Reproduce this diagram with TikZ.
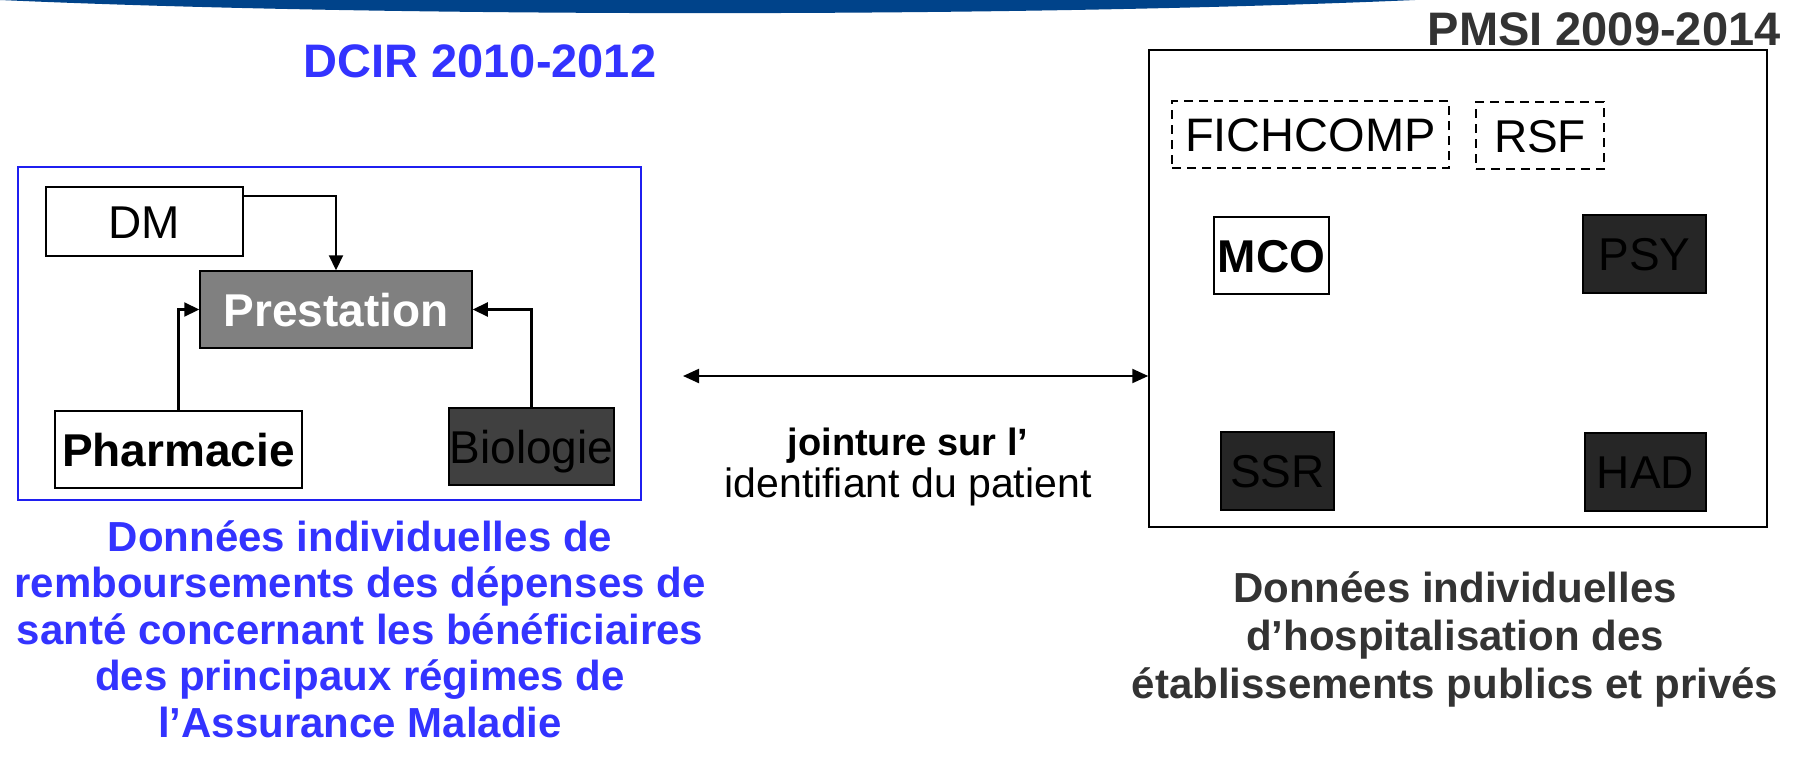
\documentclass[tikz,border=0pt]{standalone}
\usepackage{fontspec}
\setmainfont{Liberation Sans}
\usetikzlibrary{arrows.meta}
\definecolor{bandeau}{HTML}{00438A}
\definecolor{dcirbleu}{HTML}{3333FF}
\definecolor{cadrebleu}{HTML}{1F1FF0}
\definecolor{pmsigris}{HTML}{333333}
\definecolor{prestgris}{HTML}{808080}
\definecolor{biogris}{HTML}{404040}
\definecolor{noirgris}{HTML}{262626}
\tikzset{
  cadre/.style={draw, line width=1.5pt, inner sep=0pt},
  boite/.style={draw, line width=1.5pt, inner sep=0pt, text height=33pt, text depth=0pt,
    font=\fontsize{46}{52}\selectfont},
  pointille/.style={boite, dash pattern=on 9pt off 6pt},
  fleche/.style={line width=2.2pt, -{Triangle[length=15pt,width=14pt]}},
  double fleche/.style={line width=2.2pt, {Triangle[length=16pt,width=14pt]}-{Triangle[length=16pt,width=14pt]}},
  legende/.style={align=center, inner sep=0pt, font=\fontsize{42}{46.5}\selectfont\bfseries}
}
\begin{document}
\begin{tikzpicture}[x=1pt,y=-1pt]
\path[fill=white] (0,0) rectangle (1801,758);
\fill[bandeau] (0,0) .. controls (380,17) and (1000,18) .. (1415,0) -- cycle;

\node[anchor=base, text=dcirbleu, font=\fontsize{47}{56}\selectfont\bfseries] (titredcir) at (480,77) {DCIR 2010-2012};

\node[cadre, draw=cadrebleu, minimum width=623pt, minimum height=333pt] (dcir) at (329.5,333.5) {};
\node[boite, minimum width=197pt, minimum height=69pt] (dm) at (144.5,221.5) {DM};
\node[boite, fill=prestgris, text=white, font=\fontsize{46}{52}\selectfont\bfseries,
  minimum width=272pt, minimum height=77pt] (prest) at (336,309.5) {Prestation};
\node[boite, font=\fontsize{46}{52}\selectfont\bfseries, minimum width=247pt, minimum height=77pt] (pharma) at (178.5,449.5) {Pharmacie};
\node[boite, fill=biogris, minimum width=165pt, minimum height=77pt] (bio) at (531.5,446.5) {Biologie};
\draw[fleche] ([yshift=-10pt]dm.north east) -| (prest.north);
\draw[fleche] (pharma.north) |- (prest.west);
\draw[fleche] (bio.north) |- (prest.east);

\node[cadre, minimum width=618pt, minimum height=477pt] (pmsi) at (1458,288.5) {};
\node[anchor=base east, text=pmsigris, font=\fontsize{47}{56}\selectfont\bfseries] (titrepmsi) at (1784,45) {PMSI 2009-2014};
\node[pointille, font=\fontsize{47}{52}\selectfont, minimum width=277pt, minimum height=67pt] (fichcomp) at (1310.5,134.5) {FICHCOMP};
\node[pointille, minimum width=128pt, minimum height=67pt] (rsf) at (1540,135.5) {RSF};
\node[boite, font=\fontsize{46}{52}\selectfont\bfseries, minimum width=115pt, minimum height=77pt] (mco) at (1271.5,255.5) {MCO};
\node[boite, fill=noirgris, minimum width=123pt, minimum height=78pt] (psy) at (1644.5,254) {PSY};
\node[boite, fill=noirgris, minimum width=113pt, minimum height=78pt] (ssr) at (1277.5,471) {SSR};
\node[boite, fill=noirgris, minimum width=121pt, minimum height=78pt] (had) at (1645.5,472) {HAD};

\coordinate (jointg) at (683,376);
\draw[double fleche] (jointg) -- (jointg -| pmsi.west);
\node[align=center, inner sep=0pt, anchor=north, font=\fontsize{41}{42}\selectfont] (jointure) at (908,428)
  {{\fontsize{38}{42}\selectfont\bfseries jointure sur l’}\\identifiant du patient};

\node[legende, anchor=north, text=dcirbleu] (textedcir) at (360,520)
  {Données individuelles de\\remboursements des dépenses de\\santé concernant les bénéficiaires\\des principaux régimes de\\l’Assurance Maladie};
\node[legende, anchor=north, text=pmsigris, font=\fontsize{42}{48}\selectfont\bfseries] (textepmsi) at (1455,571)
  {Données individuelles\\d’hospitalisation des\\établissements publics et privés};
\end{tikzpicture}
\end{document}
